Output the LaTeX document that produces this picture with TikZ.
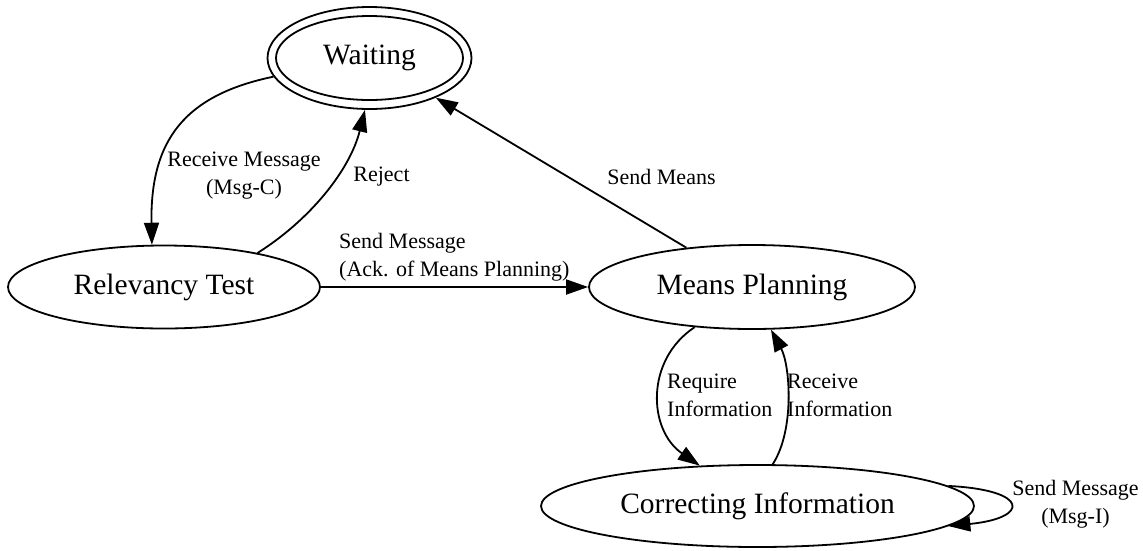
\documentclass[tikz,border=0pt]{standalone}
\usepackage{fontspec}
\setmainfont{Liberation Serif}
\usetikzlibrary{shapes.geometric,arrows.meta}
\begin{document}
\begin{tikzpicture}[x=1pt,y=-1pt,
  state/.style={ellipse,draw,line width=1.8pt,inner sep=0pt,
    font=\fontsize{29.5}{34}\selectfont},
  elabel/.style={font=\fontsize{22}{28}\selectfont,inner sep=0pt},
  conn/.style={line width=1.8pt,-{Triangle[length=22pt,width=15pt]}}]
\useasboundingbox (0,0) rectangle (1143,550);

% states
\node[state,minimum width=204pt,minimum height=102pt] (waiting) at (369.5,58) {};
\node[state,minimum width=187pt,minimum height=84pt] (waitingin) at (369.5,58) {Waiting};
\node[state,minimum width=312pt,minimum height=83pt] (relevancy) at (164,287) {Relevancy Test};
\node[state,minimum width=326pt,minimum height=84pt] (means) at (752,287) {Means Planning};
\node[state,minimum width=433pt,minimum height=82pt] (correcting) at (757.5,506) {Correcting Information};

% transitions
\draw[conn] (waiting.191) .. controls (185,95) and (150,140) .. (relevancy.106);
\draw[conn] (relevancy.20) .. controls (310,220) and (350,170) .. (waiting.265);
\draw[conn] (relevancy) -- (means);
\draw[conn] (means) -- (waiting);
\draw[conn] (means.215) .. controls (645,360) and (648,430) .. (correcting.145);
\draw[conn] (correcting.70) .. controls (795,430) and (790,365) .. (means.294);
\draw[conn] (correcting.6) .. controls (1030,490) and (1030,518) .. (correcting.354);

% transition labels
\node[elabel,align=center] (lrecv) at (244,176) {Receive Message\\(Msg-C)};
\node[elabel] (lreject) at (381.5,177) {Reject};
\node[elabel] (lmeans) at (661.5,177) {Send Means};
\node[elabel,align=left,anchor=west] (lack) at (339,257.5) {Send Message\\(Ack. of Means Planning)};
\node[elabel,align=left,anchor=west] (lreq) at (667,395) {Require\\Information};
\node[elabel,align=left,anchor=west] (lrcv) at (787,395) {Receive\\Information};
\node[elabel,align=center] (lmsgi) at (1075.5,504.5) {Send Message\\(Msg-I)};
\end{tikzpicture}
\end{document}
